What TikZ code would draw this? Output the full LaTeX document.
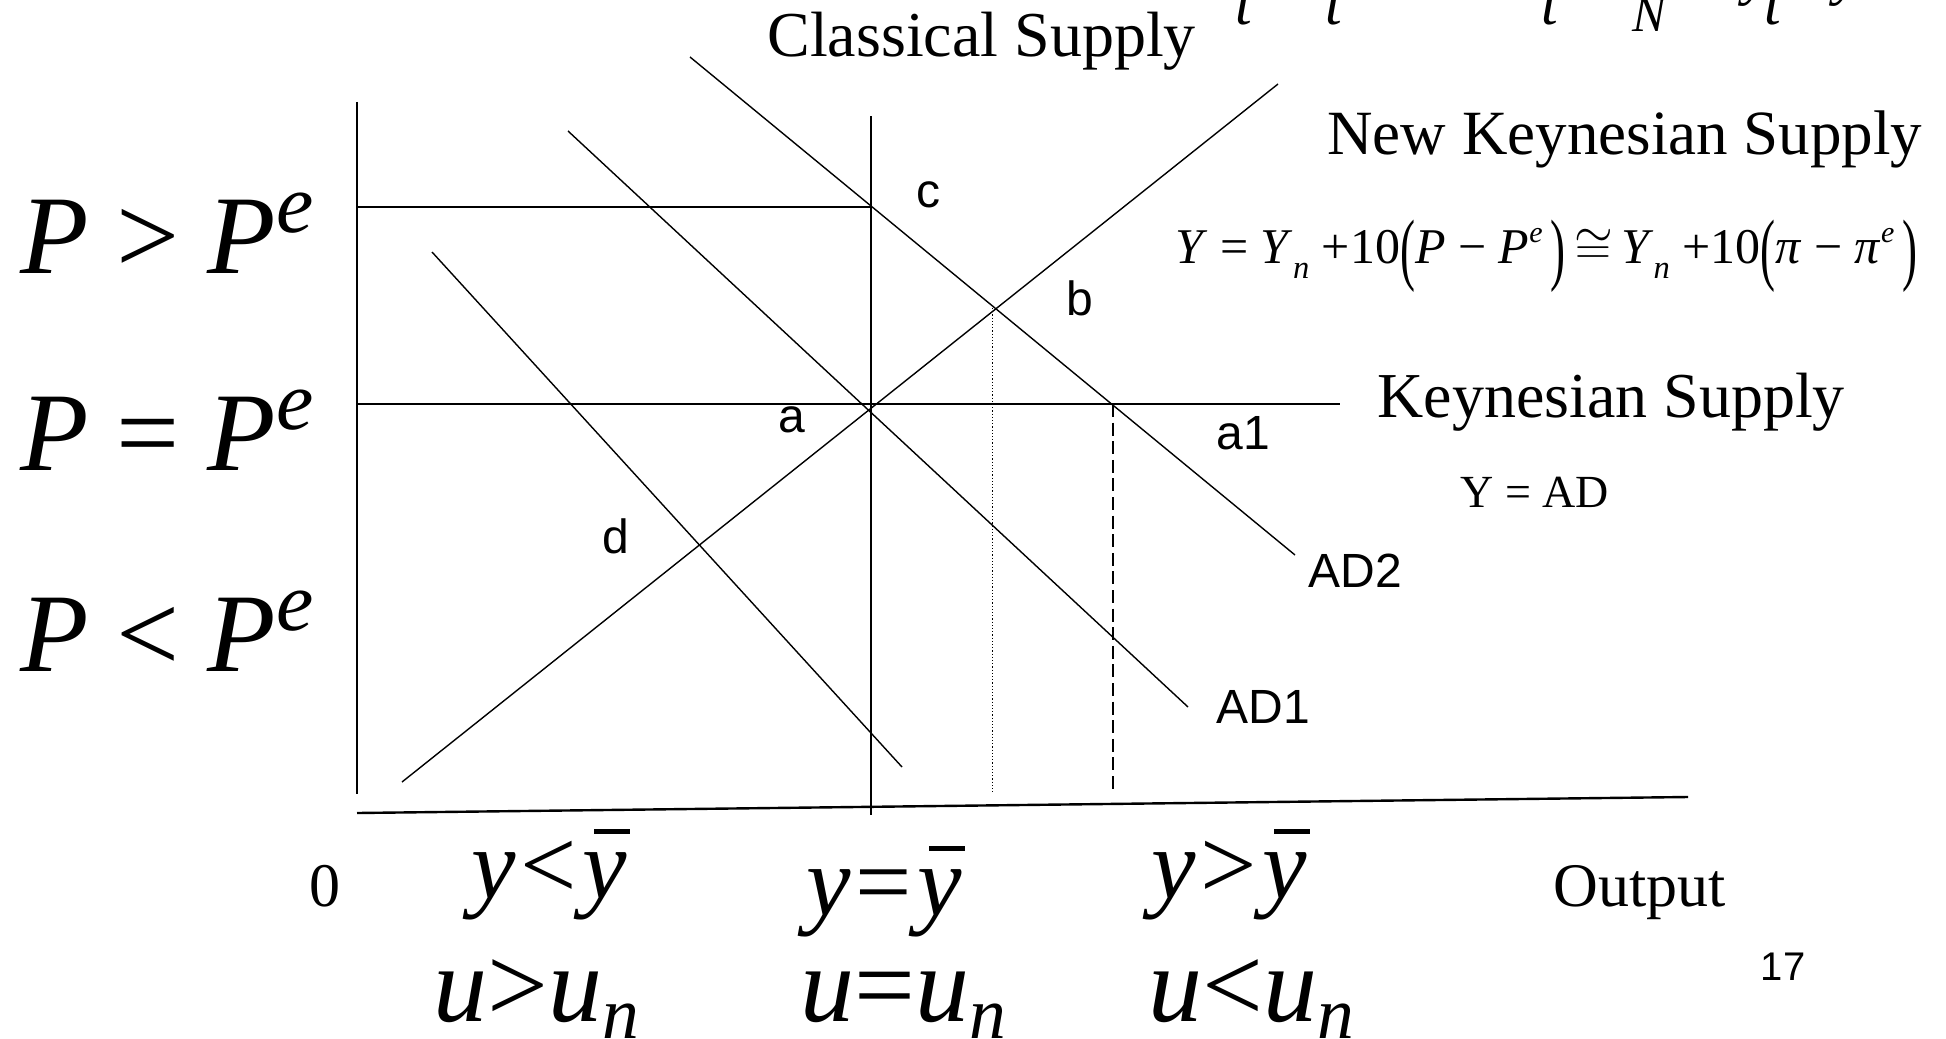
\documentclass[tikz,border=0pt]{standalone}
\usepackage{fontspec}
\setmainfont{Liberation Serif}
\newfontfamily\arialf{Liberation Sans}
\newcommand\fs[1]{\fontsize{#1pt}{#1pt}\selectfont}
\newcommand\ybar{\makebox[0pt][l]{\hspace{0.12em}\rule[0.64em]{0.36em}{0.05em}}\textit{y}}
\newcommand\subx[1]{\raisebox{-0.3em}{\scalebox{0.65}{\itshape #1}}}
\newcommand\subu[1]{\raisebox{-0.16em}{\scalebox{0.68}{\itshape #1}}}
\newcommand\supx[1]{\raisebox{0.42em}{\scalebox{0.6}{\itshape #1}}}
\newcommand\supp[1]{\raisebox{0.36em}{\scalebox{0.75}{\itshape #1}}}
\newcommand\bigp[1]{\raisebox{-0.25em}{\scalebox{0.9}[1.6]{#1}}}
\begin{document}
\begin{tikzpicture}[x=0.5pt,y=-0.5pt,
  curve/.style={line width=0.7pt},
  hline/.style={line width=0.9pt},
  axis/.style={line width=1.2pt},
  ptlbl/.style={font=\arialf\fs{24}, inner sep=0pt},
  serlbl/.style={font=\fs{32}, inner sep=0pt, anchor=base west},
  biglbl/.style={font=\fs{56}, inner sep=0pt, anchor=base west},
  ylbl/.style={font=\fs{50}, inner sep=0pt, anchor=base},
  ulbl/.style={font=\fs{54}, inner sep=0pt, anchor=base},
  cutlbl/.style={inner sep=0pt, anchor=base}]
\useasboundingbox (0,0) rectangle (1946,1038);
\clip (0,0) rectangle (1946,1038);

% coordinates
\coordinate (Ytop) at (357,102);
\coordinate (Ybot) at (357,794);
\coordinate (Xl) at (357,813);
\coordinate (Xr) at (1688,797);
\coordinate (CStop) at (871,116);
\coordinate (CSbot) at (871,815);
\coordinate (Hl) at (357,207);
\coordinate (c) at (871,207);
\coordinate (Kl) at (357,404);
\coordinate (Kr) at (1340,404);
\coordinate (NKbot) at (402,782);
\coordinate (NKtop) at (1278,84);
\coordinate (AD2top) at (690,57);
\coordinate (AD2bot) at (1295,555);
\coordinate (AD1top) at (568,131);
\coordinate (AD1bot) at (1188,707);
\coordinate (AD0top) at (432,252);
\coordinate (AD0bot) at (902,767);
\coordinate (bpt) at (992,308);
\coordinate (bfoot) at (992,794);
\coordinate (a1pt) at (1113,404);
\coordinate (a1foot) at (1113,792);

% axes
\draw[line width=1pt] (Ytop) -- (Ybot);
\draw[axis] (Xl) -- (Xr);

% lines
\draw[curve] (CStop) -- (CSbot);
\draw[hline] (Hl) -- (c);
\draw[hline] (Kl) -- (Kr);
\draw[curve] (NKbot) -- (NKtop);
\draw[curve] (AD2top) -- (AD2bot);
\draw[curve] (AD1top) -- (AD1bot);
\draw[curve] (AD0top) -- (AD0bot);
\draw[line width=0.5pt, dash pattern=on 0.6pt off 1pt] (bpt) -- (bfoot);
\draw[line width=0.7pt, dash pattern=on 6.5pt off 2.8pt] (a1pt) -- (a1foot);

% point labels
\node[ptlbl] (lc) at (928,195) {c};
\node[ptlbl] (lb) at (1080,298) {b};
\node[ptlbl] (la) at (792,420) {a};
\node[ptlbl] (la1) at (1243,433) {a1};
\node[ptlbl] (ld) at (616,536) {d};
\node[ptlbl] (lad2) at (1355,571) {AD2};
\node[ptlbl] (lad1) at (1263,707) {AD1};

% supply labels
\node[serlbl] (cs) at (767,57) {Classical Supply};
\node[serlbl, font=\fs{31.5}] (nks) at (1327,155) {New Keynesian Supply};
\node[serlbl] (ks) at (1377,417) {Keynesian Supply};
\node[inner sep=0pt, anchor=base west, font=\fs{23}] (yad) at (1460,507) {Y = AD};
\node[inner sep=0pt, anchor=base west, font=\fs{25}] (eq) at (1175,263)
  {\textit{Y} = \textit{Y}\subx{n} +10\bigp{(}\textit{P} − \textit{P}\supx{e}\,\bigp{)}\,$\cong$\,\textit{Y}\subx{n} +10\bigp{(}\textit{π} − \textit{π}\supx{e}\,\bigp{)}};

% price labels
\node[biglbl] (pg) at (20,273) {\textit{P} > \textit{P}\supp{e}};
\node[biglbl] (pe) at (20,470) {\textit{P} = \textit{P}\supp{e}};
\node[biglbl] (pl) at (20,671) {\textit{P} < \textit{P}\supp{e}};

% output labels
\node[inner sep=0pt, anchor=base, font=\fs{31}] (zero) at (325,906) {0};
\node[inner sep=0pt, anchor=base west, font=\fs{31}] (outp) at (1553,906) {Output};
\node[inner sep=0pt, anchor=base, font=\arialf\fs{20}] (pg17) at (1783,980) {17};
\node[ylbl] (y1) at (549,898) {\textit{y}\kern0.05em<\kern0.05em\ybar};
\node[ylbl] (y2) at (884,915) {\textit{y}\kern0.05em=\kern0.05em\ybar};
\node[ylbl] (y3) at (1229,898) {\textit{y}\kern0.05em>\kern0.05em\ybar};
\node[ulbl] (u1) at (536,1021) {\textit{u}>\textit{u}\subu{n}};
\node[ulbl] (u2) at (903,1021) {\textit{u}=\textit{u}\subu{n}};
\node[ulbl] (u3) at (1251,1021) {\textit{u}<\textit{u}\subu{n}};

% cut-off formula fragments at the top edge
\node[cutlbl, font=\itshape\fs{30}] (t1) at (1244,25) {t};
\node[cutlbl, font=\itshape\fs{30}] (t2) at (1334,25) {t};
\node[cutlbl, font=\itshape\fs{30}] (t3) at (1550,25) {t};
\node[cutlbl, font=\itshape\fs{25}] (n1) at (1649,32) {N};
\node[cutlbl, font=\itshape\fs{30}] (y4) at (1757,-6) {y};
\node[cutlbl, font=\itshape\fs{30}] (t4) at (1773,25) {t};
\node[cutlbl, font=\itshape\fs{30}] (y5) at (1848,-6) {y};
\end{tikzpicture}
\end{document}
